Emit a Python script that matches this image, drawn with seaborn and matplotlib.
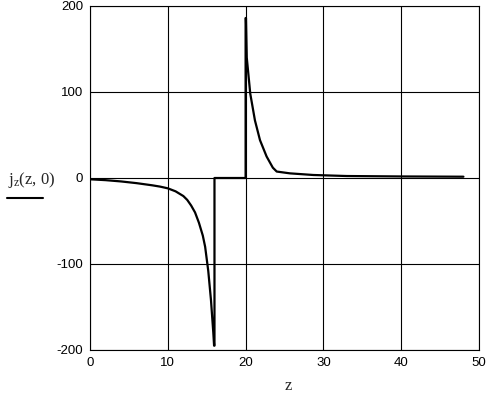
import matplotlib
matplotlib.use("Agg")
import matplotlib.pyplot as plt
import seaborn as sns
import pandas as pd

z_vals = [0, 2, 4, 6, 8, 9, 10, 11, 12, 12.5, 13, 13.5, 14, 14.5, 14.8, 15.2, 15.55, 15.85, 15.95,
          16, 16, 20, 20, 20.05, 20.15, 20.6, 21.2, 21.85, 22.7, 23.5, 24, 25.7, 28.7, 33, 40, 48]
j_vals = [-1.5, -2.5, -4, -6, -8.5, -10, -12, -15.5, -21, -25.5, -32, -40, -52, -67, -80, -108, -142, -180, -195,
          -195, 0, 0, 186, 186, 140, 98, 67, 44, 25, 12, 7.5, 5.4, 3.5, 2.3, 1.8, 1.5]
x_ticks = [0, 10, 20, 30, 40, 50]
y_ticks = [-200, -100, 0, 100, 200]

sns.set_theme(style="white")
plt.rcParams['font.family'] = ['Liberation Sans', 'DejaVu Sans']
plt.rcParams['mathtext.fontset'] = 'custom'
plt.rcParams['mathtext.rm'] = 'Liberation Serif'
plt.rcParams['mathtext.it'] = 'Liberation Serif'

df = pd.DataFrame({"z": z_vals, "j": j_vals})

fig = plt.figure(figsize=(4.93, 3.96), dpi=100)
ax = fig.add_axes([90/493, 1-350/396, 389/493, 344/396])
sns.lineplot(data=df, x="z", y="j", sort=False, estimator=None, color="black",
             linewidth=1.6, ax=ax, zorder=3)
ax.set_xlim(0, 50)
ax.set_ylim(-200, 200)
ax.set_xticks(x_ticks)
ax.set_yticks(y_ticks)
ax.set_xticklabels([str(t) for t in x_ticks], fontsize=9.5, color="black")
ax.set_yticklabels([str(t) for t in y_ticks], fontsize=9.5, color="black")
ax.grid(True, color="black", linewidth=0.8)
ax.tick_params(length=0, pad=5)
for s in ax.spines.values():
    s.set_color("black")
    s.set_linewidth(0.8)
ax.set_xlabel("")
ax.set_ylabel("")

fig.text(288/493, 1-385/396, r"$\mathrm{z}$", fontsize=12, ha="center", va="center")
fig.text(8/493, 1-184/396, r"$\mathrm{j}_\mathrm{z}\mathrm{(z,\,0)}$", fontsize=12, ha="left", va="baseline")
fig.add_artist(plt.Line2D([7/493, 43/493], [1-197.5/396, 1-197.5/396], color="black", linewidth=1.5))

fig.savefig("out.png", dpi=100)
